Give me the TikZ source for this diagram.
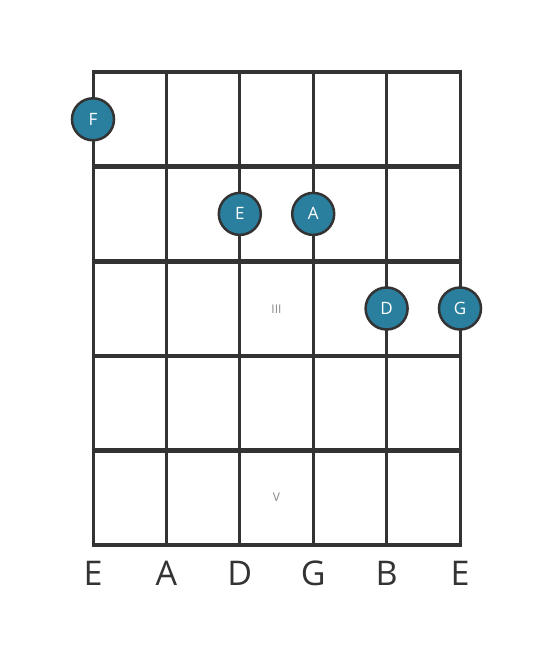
\documentclass[tikz,border=0pt]{standalone}
\usepackage{fontspec}
\setmainfont{Open Sans}
\definecolor{ink}{HTML}{333333}
\definecolor{teal}{HTML}{2A7F9E}
\definecolor{gray1}{HTML}{888888}
\tikzset{
  stringline/.style={draw=ink, line width=3pt},
  fretline/.style={draw=ink, line width=4.6pt},
  note/.style={circle, fill=teal, draw=ink, line width=2.5pt, minimum size=42pt, inner sep=0pt, text=white, font=\fontsize{17}{17}\selectfont},
  strlabel/.style={text=ink, font=\fontsize{34}{34}\selectfont, anchor=center},
  fretnum/.style={text=gray1, font=\fontsize{12}{12}\selectfont}
}
\begin{document}
\begin{tikzpicture}[x=1pt,y=-1pt]
\useasboundingbox (0,0) rectangle (553,656);
\fill[white] (0,0) rectangle (553,656);
% string coordinates
\foreach \i/\x in {1/93,2/166.4,3/239.8,4/313.2,5/386.6,6/460}{
  \coordinate (st\i) at (\x,72);
  \coordinate (sb\i) at (\x,545);
  \draw[stringline] (st\i) -- (sb\i);
}
\foreach \j/\y in {0/72,1/166.6,2/261.2,3/355.8,4/450.4,5/545}{
  \coordinate (fl\j) at (93,\y);
  \coordinate (fr\j) at (460,\y);
  \draw[fretline] ([xshift=-1.5pt]fl\j) -- ([xshift=1.5pt]fr\j);
}
\node[fretnum] (f3) at (276.5,309.5) {III};
\node[fretnum] (f5) at (276.5,497.5) {V};
\node[note] (nF) at (93,119.3) {F};
\node[note] (nE) at (239.8,213.9) {E};
\node[note] (nA) at (313.2,213.9) {A};
\node[note] (nD) at (386.6,308.5) {D};
\node[note] (nG) at (460,308.5) {G};
\node[strlabel] (l1) at (93,573) {E};
\node[strlabel] (l2) at (166.4,573) {A};
\node[strlabel] (l3) at (239.8,573) {D};
\node[strlabel] (l4) at (313.2,573) {G};
\node[strlabel] (l5) at (386.6,573) {B};
\node[strlabel] (l6) at (460,573) {E};
\end{tikzpicture}
\end{document}
